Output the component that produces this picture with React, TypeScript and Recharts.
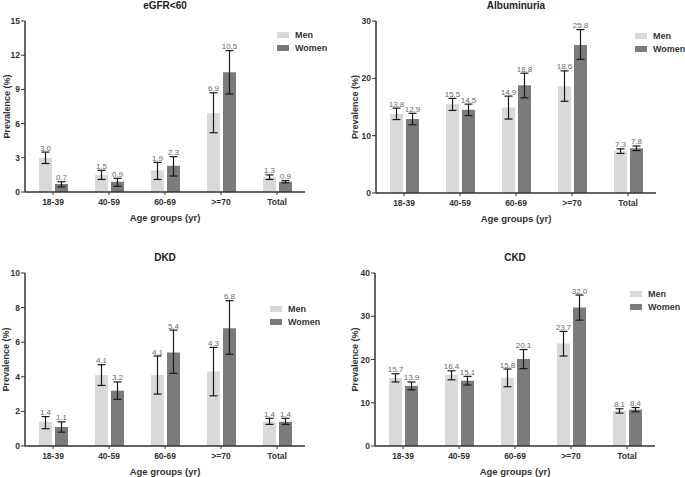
import { Bar, BarChart, ErrorBar, LabelList, Legend, XAxis, YAxis } from "recharts";

const ageGroups = ["18-39", "40-59", "60-69", ">=70", "Total"];

// eGFR<60
const egfrMen = [3.0, 1.5, 1.9, 6.9, 1.3];
const egfrMenLo = [2.5, 1.1, 1.1, 5.2, 1.1];
const egfrMenHi = [3.5, 1.9, 2.6, 8.7, 1.5];
const egfrWomen = [0.7, 0.9, 2.3, 10.5, 0.9];
const egfrWomenLo = [0.45, 0.5, 1.4, 8.6, 0.8];
const egfrWomenHi = [0.9, 1.2, 3.1, 12.4, 1.0];
const egfrTicks = [0, 3, 6, 9, 12, 15];

// Albuminuria
const albMen = [13.8, 15.5, 14.9, 18.6, 7.3];
const albMenLo = [12.8, 14.4, 12.9, 16.0, 6.9];
const albMenHi = [14.8, 16.5, 16.9, 21.3, 7.7];
const albWomen = [12.9, 14.5, 18.8, 25.8, 7.8];
const albWomenLo = [11.9, 13.5, 16.6, 23.3, 7.4];
const albWomenHi = [13.9, 15.5, 20.9, 28.5, 8.2];
const albTicks = [0, 10, 20, 30];

// DKD
const dkdMen = [1.4, 4.1, 4.1, 4.3, 1.4];
const dkdMenLo = [1.0, 3.5, 3.0, 2.9, 1.25];
const dkdMenHi = [1.7, 4.7, 5.2, 5.7, 1.6];
const dkdWomen = [1.1, 3.2, 5.4, 6.8, 1.4];
const dkdWomenLo = [0.8, 2.7, 4.2, 5.3, 1.25];
const dkdWomenHi = [1.4, 3.7, 6.7, 8.4, 1.6];
const dkdTicks = [0, 2, 4, 6, 8, 10];

// CKD
const ckdMen = [15.7, 16.4, 15.8, 23.7, 8.1];
const ckdMenLo = [14.8, 15.3, 13.7, 20.8, 7.6];
const ckdMenHi = [16.7, 17.4, 17.8, 26.5, 8.6];
const ckdWomen = [13.9, 15.1, 20.1, 32.0, 8.4];
const ckdWomenLo = [13.0, 14.1, 17.9, 29.1, 7.9];
const ckdWomenHi = [14.8, 16.1, 22.3, 34.9, 8.9];
const ckdTicks = [0, 10, 20, 30, 40];

const FONT = "'Liberation Sans', Arial, sans-serif";
const MEN = "#d9d9d9";
const WOMEN = "#7b7b7b";
const AXIS = "#333";

type Row = {
  group: string;
  men: number;
  women: number;
  menHi: number;
  womenHi: number;
  menErr: [number, number];
  womenErr: [number, number];
};

function buildRows(
  men: number[],
  menLo: number[],
  menHi: number[],
  women: number[],
  womenLo: number[],
  womenHi: number[]
): Row[] {
  return ageGroups.map((g, i) => ({
    group: g,
    men: men[i],
    women: women[i],
    menHi: menHi[i],
    womenHi: womenHi[i],
    menErr: [men[i] - menLo[i], menHi[i] - men[i]],
    womenErr: [women[i] - womenLo[i], womenHi[i] - women[i]],
  }));
}

// label sits on top of the upper CI whisker
function makeValueLabel(rows: Row[], key: "men" | "women") {
  return function ValueLabel(props: any) {
    const vb = props.viewBox ?? props;
    const x = Number(vb.x ?? props.x);
    const y = Number(vb.y ?? props.y);
    const w = Number(vb.width ?? props.width);
    const h = Number(vb.height ?? props.height);
    const row: Row | undefined =
      props.index != null ? rows[props.index] : props.payload;
    if (!row || !Number.isFinite(x) || !Number.isFinite(h)) return null;
    const v = row[key];
    const hi = key === "men" ? row.menHi : row.womenHi;
    const bottom = y + h;
    const py = bottom - hi * (h / v);
    return (
      <text
        x={x + w / 2}
        y={py - 1.5}
        textAnchor="middle"
        fill="#6a6a6a"
        fontSize={8}
        fontFamily={FONT}
      >
        {v.toFixed(1)}
      </text>
    );
  };
}

function LegendBox() {
  const item = (color: string, label: string) => (
    <div style={{ display: "flex", alignItems: "center", height: 12.5 }}>
      <span style={{ display: "inline-block", width: 12, height: 6, background: color }} />
      <span
        style={{
          marginLeft: 6,
          fontSize: 9,
          fontWeight: 700,
          color: AXIS,
          fontFamily: FONT,
          lineHeight: "12px",
        }}
      >
        {label}
      </span>
    </div>
  );
  return (
    <div>
      {item(MEN, "Men")}
      {item(WOMEN, "Women")}
    </div>
  );
}

type PanelProps = {
  title: string;
  rows: Row[];
  ticks: number[];
  left: number;
  top: number;
  width: number;
  height: number;
  margin: { top: number; right: number; bottom: number; left: number };
  yWidth: number;
  yLabelOffset: number;
  legendLeft: number;
  legendTop: number;
};

function Panel(p: PanelProps) {
  const plotLeft = p.margin.left + p.yWidth;
  const plotRight = p.width - p.margin.right;
  const titleCenter = (plotLeft + plotRight) / 2;
  const tickStyle = { fontSize: 8.5, fontWeight: 700, fill: AXIS, fontFamily: FONT };
  return (
    <div style={{ position: "absolute", left: p.left, top: p.top, width: p.width, height: p.height }}>
      <div
        style={{
          position: "absolute",
          left: titleCenter - 60,
          width: 120,
          top: p.margin.top - 21,
          textAlign: "center",
          fontFamily: FONT,
          fontWeight: 700,
          fontSize: 10,
          color: "#222",
          lineHeight: "12px",
          zIndex: 2,
        }}
      >
        {p.title}
      </div>
      <BarChart
        width={p.width}
        height={p.height}
        data={p.rows}
        margin={p.margin}
        barSize={13}
        barGap={3}
      >
        <XAxis
          dataKey="group"
          height={31}
          tick={tickStyle}
          tickSize={3}
          tickMargin={4}
          interval={0}
          axisLine={{ stroke: AXIS, strokeWidth: 1.5 }}
          tickLine={{ stroke: AXIS }}
          label={{
            value: "Age groups (yr)",
            position: "insideBottom",
            offset: 2.5,
            style: { fontSize: 9.5, fontWeight: 700, fill: AXIS, fontFamily: FONT },
          }}
        />
        <YAxis
          type="number"
          domain={[0, p.ticks[p.ticks.length - 1]]}
          ticks={p.ticks}
          interval={0}
          width={p.yWidth}
          tick={tickStyle}
          tickSize={4}
          tickMargin={1}
          axisLine={{ stroke: AXIS, strokeWidth: 1.5 }}
          tickLine={{ stroke: AXIS }}
          label={{
            value: "Prevalence (%)",
            angle: -90,
            position: "insideLeft",
            offset: p.yLabelOffset,
            style: {
              textAnchor: "middle",
              fontSize: 9,
              fontWeight: 700,
              fill: AXIS,
              fontFamily: FONT,
            },
          }}
        />
        <Legend
          layout="vertical"
          align="center"
          verticalAlign="middle"
          content={() => <LegendBox />}
          wrapperStyle={{ left: p.legendLeft, top: p.legendTop, width: "auto", height: "auto" }}
        />
        <Bar dataKey="men" name="Men" fill={MEN} isAnimationActive={false}>
          <ErrorBar dataKey="menErr" direction="y" width={4} stroke="#1a1a1a" strokeWidth={1.2} />
          <LabelList dataKey="men" content={makeValueLabel(p.rows, "men")} />
        </Bar>
        <Bar dataKey="women" name="Women" fill={WOMEN} isAnimationActive={false}>
          <ErrorBar dataKey="womenErr" direction="y" width={4} stroke="#1a1a1a" strokeWidth={1.2} />
          <LabelList dataKey="women" content={makeValueLabel(p.rows, "women")} />
        </Bar>
      </BarChart>
    </div>
  );
}

const egfrRows = buildRows(egfrMen, egfrMenLo, egfrMenHi, egfrWomen, egfrWomenLo, egfrWomenHi);
const albRows = buildRows(albMen, albMenLo, albMenHi, albWomen, albWomenLo, albWomenHi);
const dkdRows = buildRows(dkdMen, dkdMenLo, dkdMenHi, dkdWomen, dkdWomenLo, dkdWomenHi);
const ckdRows = buildRows(ckdMen, ckdMenLo, ckdMenHi, ckdWomen, ckdWomenLo, ckdWomenHi);

export default function App() {
  return (
    <div
      style={{
        position: "absolute",
        left: 0,
        top: 0,
        width: 685,
        height: 477,
        background: "#fff",
        overflow: "hidden",
      }}
    >
      <Panel
        title="eGFR<60"
        rows={egfrRows}
        ticks={egfrTicks}
        left={0}
        top={0}
        width={342}
        height={235}
        margin={{ top: 21, right: 37, bottom: 12, left: 0 }}
        yWidth={25}
        yLabelOffset={7}
        legendLeft={277}
        legendTop={29}
      />
      <Panel
        title="Albuminuria"
        rows={albRows}
        ticks={albTicks}
        left={342}
        top={0}
        width={343}
        height={235}
        margin={{ top: 21, right: 29, bottom: 11, left: 0 }}
        yWidth={34}
        yLabelOffset={13}
        legendLeft={293}
        legendTop={30}
      />
      <Panel
        title="DKD"
        rows={dkdRows}
        ticks={dkdTicks}
        left={0}
        top={235}
        width={342}
        height={242}
        margin={{ top: 38, right: 37, bottom: 0, left: 0 }}
        yWidth={25}
        yLabelOffset={6}
        legendLeft={270}
        legendTop={68}
      />
      <Panel
        title="CKD"
        rows={ckdRows}
        ticks={ckdTicks}
        left={342}
        top={235}
        width={343}
        height={242}
        margin={{ top: 38, right: 30, bottom: 0, left: 0 }}
        yWidth={33}
        yLabelOffset={13}
        legendLeft={288}
        legendTop={53}
      />
    </div>
  );
}
